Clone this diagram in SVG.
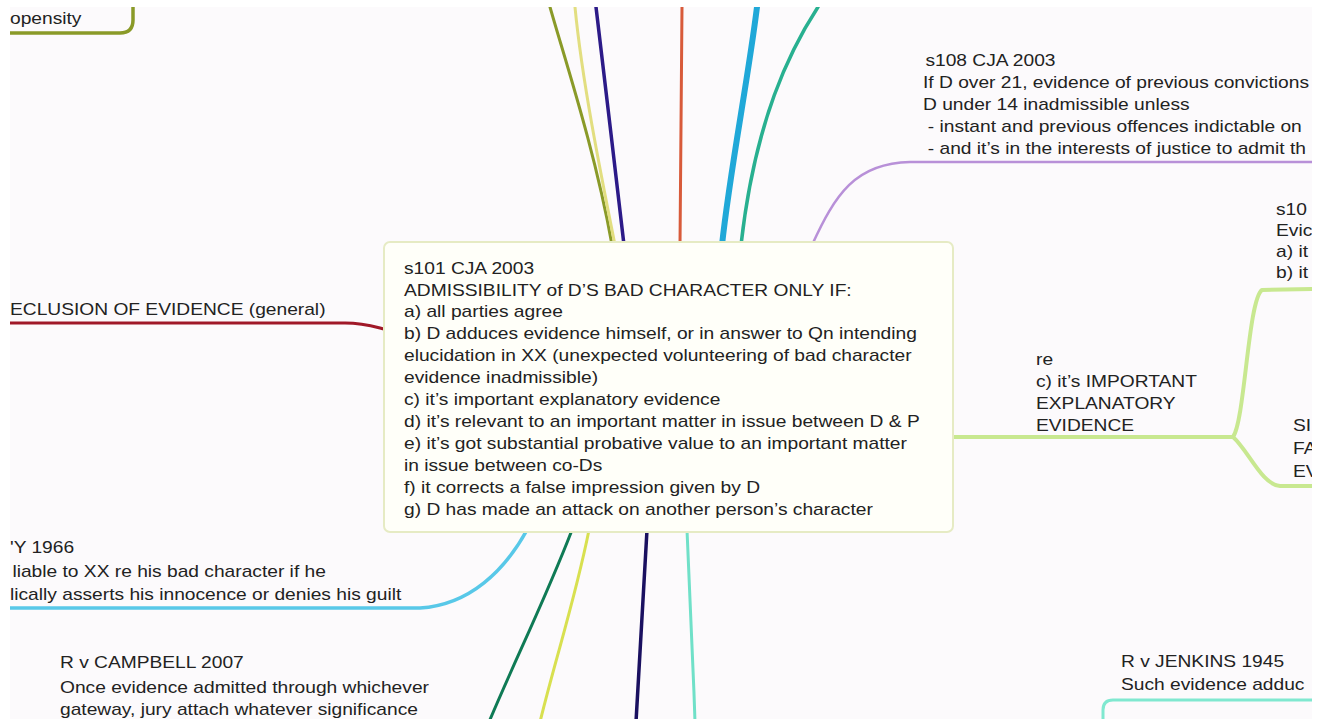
<svg xmlns="http://www.w3.org/2000/svg" width="1319" height="719" viewBox="0 0 1319 719">
<defs>
<clipPath id="content"><rect x="10" y="7" width="1302" height="712"/></clipPath>
<style>
text{font-family:"Liberation Sans",Arial,Helvetica,sans-serif;font-size:16px;fill:#222222}
.c{fill:none;stroke-linecap:round;stroke-linejoin:round}
</style>
</defs>
<rect width="1319" height="719" fill="#ffffff"/>
<g clip-path="url(#content)">
<rect x="10" y="7" width="1302" height="712" fill="#fcfafc"/>
<g id="connectors">
<path class="c" d="M 550 7 C 565 60, 595 150, 612 245" stroke="#8a9a28" stroke-width="3"/>
<path class="c" d="M 575 7 C 582 80, 600 170, 615 245" stroke="#e2de80" stroke-width="3"/>
<path class="c" d="M 596 7 C 605 80, 615 170, 624 245" stroke="#2c1a88" stroke-width="3.5"/>
<path class="c" d="M 682 7 L 680 245" stroke="#d85a3a" stroke-width="3"/>
<path class="c" d="M 757 7 C 748 80, 730 170, 722 245" stroke="#20a8d8" stroke-width="6"/>
<path class="c" d="M 818 7 C 790 50, 755 120, 741 245" stroke="#28b090" stroke-width="3.5"/>
<path class="c" d="M 812 245 C 835 195, 855 163, 910 162 L 1315 162" stroke="#b890d8" stroke-width="2.5"/>
<path class="c" d="M 5 323 L 345 323 C 365 323, 375 327, 388 330" stroke="#a01828" stroke-width="3"/>
<path class="c" d="M 5 608 L 420 608 C 470 605, 505 570, 527 530" stroke="#58c8e8" stroke-width="3.5"/>
<path class="c" d="M 572 530 C 545 600, 515 660, 489 722" stroke="#0f7a55" stroke-width="3"/>
<path class="c" d="M 589 530 C 575 600, 555 660, 540 722" stroke="#d8e050" stroke-width="3"/>
<path class="c" d="M 647 530 L 636 722" stroke="#1a1060" stroke-width="3.5"/>
<path class="c" d="M 687 530 C 690 600, 693 660, 695 722" stroke="#70e0c8" stroke-width="3"/>
<path class="c" d="M 950 437 L 1233 437 C 1245 420, 1248 300, 1262 290 L 1315 289 M 1233 437 C 1248 450, 1262 485, 1280 486 L 1315 486" stroke="#c8e890" stroke-width="4"/>
<path class="c" d="M 5 33 L 120 33 Q 133 33, 133 20 L 133 3" stroke="#8a9a28" stroke-width="3.5"/>
<path class="c" d="M 1315 700 L 1113 700 Q 1103 700, 1103 710 L 1103 722" stroke="#80e8d0" stroke-width="3"/>
</g>
<g id="node-propensity" transform="translate(10,0) scale(1.2,1)">
<text x="0" y="24">opensity</text>
</g>
<g id="node-exclusion" transform="translate(10,0) scale(1.2,1)">
<text x="0" y="315">ECLUSION OF EVIDENCE (general)</text>
</g>
<g id="node-s101">
<rect x="384" y="242" width="569" height="290" rx="6" fill="#fffff9" stroke="#e6ebc4" stroke-width="2"/>
<g transform="translate(404,0) scale(1.2,1)">
<text x="0" y="274">s101 CJA 2003</text>
<text x="0" y="296">ADMISSIBILITY of D’S BAD CHARACTER ONLY IF:</text>
<text x="0" y="317">a) all parties agree</text>
<text x="0" y="339">b) D adduces evidence himself, or in answer to Qn intending</text>
<text x="0" y="361">elucidation in XX (unexpected volunteering of bad character</text>
<text x="0" y="383">evidence inadmissible)</text>
<text x="0" y="405">c) it’s important explanatory evidence</text>
<text x="0" y="427">d) it’s relevant to an important matter in issue between D &amp; P</text>
<text x="0" y="449">e) it’s got substantial probative value to an important matter</text>
<text x="0" y="471">in issue between co-Ds</text>
<text x="0" y="493">f) it corrects a false impression given by D</text>
<text x="0" y="515">g) D has made an attack on another person’s character</text>
</g>
</g>
<g id="node-s108" transform="translate(923,0) scale(1.2,1)">
<text x="2" y="66">s108 CJA 2003</text>
<text x="0" y="88">If D over 21, evidence of previous convictions</text>
<text x="0" y="110">D under 14 inadmissible unless</text>
<text x="4" y="132">- instant and previous offences indictable on</text>
<text x="4" y="154">- and it’s in the interests of justice to admit th</text>
</g>
<g id="node-s103" transform="translate(1276,0) scale(1.2,1)">
<text x="0" y="215">s10</text>
<text x="0" y="236">Evic</text>
<text x="0" y="257">a) it</text>
<text x="0" y="278">b) it</text>
</g>
<g id="node-re" transform="translate(1036,0) scale(1.2,1)">
<text x="0" y="365">re</text>
<text x="0" y="387">c) it’s IMPORTANT</text>
<text x="0" y="409">EXPLANATORY</text>
<text x="0" y="431">EVIDENCE</text>
</g>
<g id="node-similar" transform="translate(1293,0) scale(1.2,1)">
<text x="0" y="431">SI</text>
<text x="0" y="454">FA</text>
<text x="0" y="477">EV</text>
</g>
<g id="node-1966" transform="translate(10,0) scale(1.2,1)">
<text x="0" y="553">'Y 1966</text>
<text x="2" y="577">liable to XX re his bad character if he</text>
<text x="0" y="600">lically asserts his innocence or denies his guilt</text>
</g>
<g id="node-campbell" transform="translate(60,0) scale(1.2,1)">
<text x="0" y="668">R v CAMPBELL 2007</text>
<text x="0" y="693">Once evidence admitted through whichever</text>
<text x="0" y="715">gateway, jury attach whatever significance</text>
</g>
<g id="node-jenkins" transform="translate(1121,0) scale(1.2,1)">
<text x="0" y="667">R v JENKINS 1945</text>
<text x="0" y="690">Such evidence adduc</text>
</g>
</g>
</svg>
